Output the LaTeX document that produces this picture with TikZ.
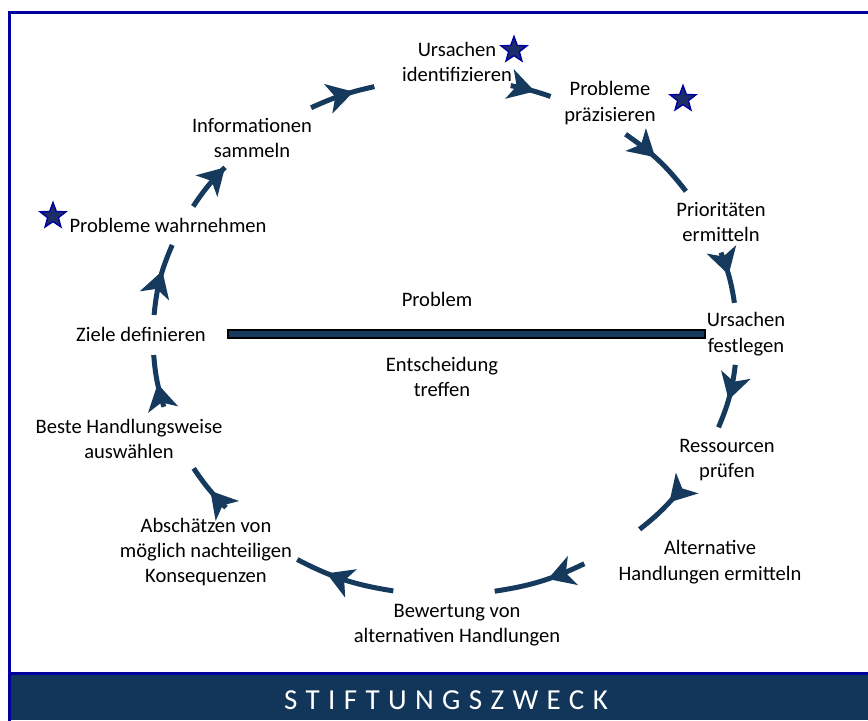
\documentclass[tikz,border=0pt]{standalone}
\usepackage{fontspec}
\setmainfont{Carlito}
\usetikzlibrary{calc,arrows.meta,decorations.markings,shapes.geometric}
\definecolor{cycblue}{RGB}{22,58,94}
\definecolor{bandblue}{RGB}{18,54,89}
\definecolor{frameblue}{RGB}{0,0,160}
\definecolor{starfill}{RGB}{28,46,104}
\tikzset{
  lbl/.style={align=center, font=\fontsize{11.7}{14.4}\selectfont, inner sep=0pt},
  cyc/.style={line width=0.1cm, cycblue, postaction={decorate},
    decoration={markings, mark=at position #1 with {\arrow{Stealth[length=0.52cm,width=0.6cm,inset=0.14cm]}}}},
  mystar/.style={star, star points=5, star point ratio=2.4, fill=starfill, draw=frameblue, line width=0.8pt, minimum size=0.54cm, inner sep=0pt},
}
\begin{document}
\begin{tikzpicture}[x=0.02cm,y=0.02cm]
%\draw[step=50,gray,very thin] (0,0) grid (868,720); %background grid
\useasboundingbox (0,0) rectangle (868,720);
\clip (0,0) rectangle (868,720);

\fill[bandblue] (10,0) rectangle (880,45.5);
\draw[frameblue, line width=0.06cm] (9.5,-5) -- (9.5,707.5) -- (880,707.5);
\draw[frameblue, line width=0.06cm] (9.5,46.5) -- (880,46.5);
\node[font=\fontsize{16.5}{18}\selectfont\addfontfeature{LetterSpace=29}, text=white] (band) at (446,20) {STIFTUNGSZWECK};

\coordinate (ctr) at (445,383);

\node[lbl] (uid) at (457,658) {Ursachen\\identifizieren};
\node[lbl] (ppr) at (610,617) {Probleme\\präzisieren};
\node[lbl] (pri) at (721,498) {Prioritäten\\ermitteln};
\node[lbl] (ufe) at (746,386) {Ursachen\\festlegen};
\node[lbl] (res) at (727,260) {Ressourcen\\prüfen};
\node[lbl] (alt) at (710,158) {Alternative\\Handlungen ermitteln};
\node[lbl] (bew) at (457,95) {Bewertung von\\alternativen Handlungen};
\node[lbl] (abs) at (206,168) {Abschätzen von\\möglich nachteiligen\\Konsequenzen};
\node[lbl] (bes) at (129,281) {Beste Handlungsweise\\auswählen};
\node[lbl] (zie) at (141,386) {Ziele definieren};
\node[lbl] (pwa) at (168,495) {Probleme wahrnehmen};
\node[lbl] (inf) at (252,582) {Informationen\\sammeln};
\node[lbl] (prob) at (437,421) {Problem};
\node[lbl] (ent) at (442,343) {Entscheidung\\treffen};

\filldraw[fill=cycblue, draw=black, line width=0.03cm] (228,382) rectangle (705,390);

\node[mystar] (st1) at (514,670) {};
\node[mystar] (st2) at (683,621) {};
\node[mystar] (st3) at (53,504) {};

% cycle arcs, clockwise
\foreach \s/\e/\p [count=\i] in {149.6/138.9/1, 117.3/104/0.68, 77/68.8/0.6, 51.8/34.4/0.45,
    19.1/7.6/0.45, -6.2/-20.5/0.55, -36.2/-48.2/0.3, -61.5/-80.2/0.42,
    -100.2/-120.4/0.68, -138.6/-149.4/0.45, -164.3/-176/0.45, 175.1/159.1/0.62}{
  \coordinate (a\i) at ($(ctr)+({292*cos(\s)},{258*sin(\s)})$);
  \coordinate (b\i) at ($(ctr)+({292*cos(\e)},{258*sin(\e)})$);
  \pgfmathsetmacro{\aout}{atan2(-258*cos(\s),292*sin(\s))}
  \pgfmathsetmacro{\ain}{atan2(-258*cos(\e),292*sin(\e))+180}
  \draw[cyc=\p] (a\i) to[out=\aout,in=\ain] (b\i);
}
\end{tikzpicture}
\end{document}
